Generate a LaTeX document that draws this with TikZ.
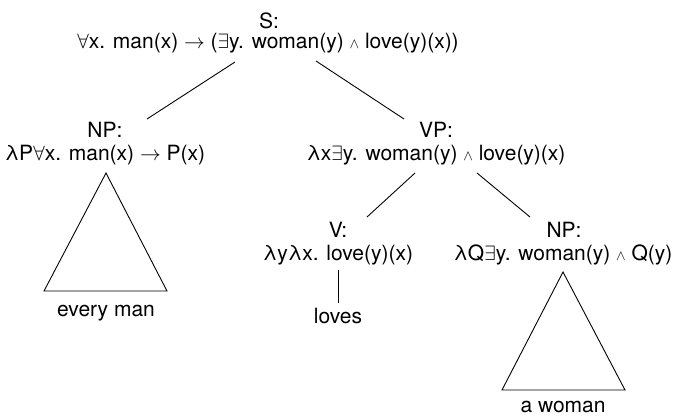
\documentclass[tikz,border=0pt]{standalone}
\usepackage{fontspec}
\setmainfont{TeX Gyre Heros}
\usetikzlibrary{calc}
\newcommand{\fa}{$\forall$}
\newcommand{\ex}{$\exists$}
\newcommand{\ar}{$\rightarrow$}
\newcommand{\an}{$\scriptstyle\wedge$}
\begin{document}
\begin{tikzpicture}[x=1pt,y=-1pt,
  lbl/.style={inner sep=0pt,anchor=base,font=\fontsize{21}{25}\selectfont},
  edge/.style={line width=0.9pt},
  tri/.style={line width=0.9pt,line join=miter}]
\useasboundingbox (0,0) rectangle (674,418);
% labels
\node[lbl] (Sc) at (269,28) {S:};
\node[lbl] (Sf) at (268,48) {\fa x. man(x) \ar{} (\ex y. woman(y) \an{} love(y)(x))};
\node[lbl] (NPc) at (105,137) {NP:};
\node[lbl] (NPf) at (105,160) {λP\fa x. man(x) \ar{} P(x)};
\node[lbl] (VPc) at (436,137) {VP:};
\node[lbl] (VPf) at (436,160) {λx\ex y. woman(y) \an{} love(y)(x)};
\node[lbl] (Vc) at (338,237) {V:};
\node[lbl] (Vf) at (338,260) {λyλx. love(y)(x)};
\node[lbl] (NQc) at (564,237) {NP:};
\node[lbl] (NQf) at (563,260) {λQ\ex y. woman(y) \an{} Q(y)};
\node[lbl] (loves) at (338,323) {loves};
\node[lbl] (every) at (106,316) {every man};
\node[lbl] (awoman) at (563,412) {a woman};
% connectors
\draw[edge] ($(Sf.base)+(-33,14)$) -- ($(NPc.base)+(42,-18)$);
\draw[edge] ($(Sf.base)+(48,13)$) -- ($(VPc.base)+(-32,-18)$);
\draw[edge] ($(VPf.base)+(-21,13)$) -- ($(Vc.base)+(29,-20)$);
\draw[edge] ($(VPf.base)+(41,13)$) -- ($(NQc.base)+(-34,-20)$);
\draw[edge] ($(Vf.base)+(0,10)$) -- ($(loves.base)+(0,-20)$);
% triangles
\draw[tri] ($(NPf.base)+(1,13)$) -- ($(every.base)+(-62,-25)$) -- ($(every.base)+(61,-25)$) -- cycle;
\draw[tri] ($(NQf.base)+(0,12)$) -- ($(awoman.base)+(-61,-22)$) -- ($(awoman.base)+(62,-22)$) -- cycle;
\end{tikzpicture}
\end{document}
